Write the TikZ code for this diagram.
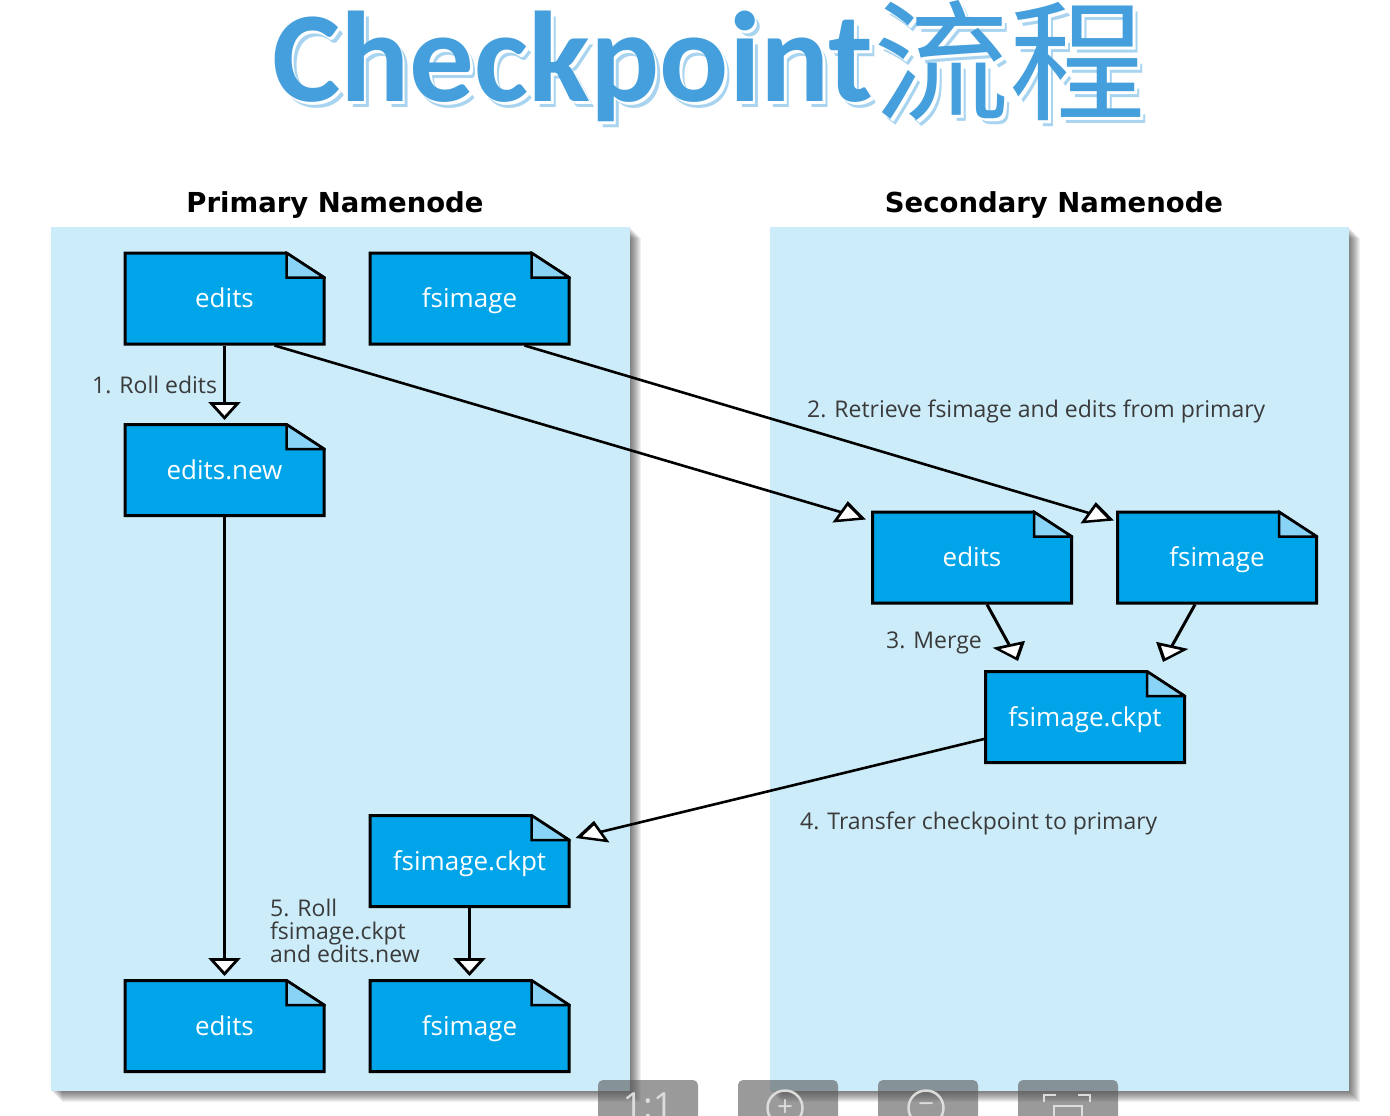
\documentclass[tikz,border=0pt]{standalone}
\usepackage{fontspec}
\setmainfont{Open Sans}
\newfontfamily\titlefont{Carlito}
\newfontfamily\headfont{DejaVu Sans}
\newfontfamily\cjk{Noto Sans CJK SC}
\usepackage{tikz}
\usetikzlibrary{
	positioning,
	arrows.meta
}

\definecolor{panelblue}{HTML}{CCECFA}
\definecolor{docblue}{HTML}{00A4E8}
\definecolor{foldblue}{HTML}{88D3F6}
\definecolor{titleblue}{HTML}{459FDC}
\definecolor{titleshade}{HTML}{A8D4F0}
\definecolor{labelgrey}{HTML}{3A3A3A}
\definecolor{buttongrey}{HTML}{575757}
\definecolor{icongrey}{HTML}{DCDCDC}

\newcommand{\titletext}{{\titlefont\bfseries\fontsize{129}{129}\selectfont Checkpoint}\raisebox{-9pt}{\scalebox{1.04}[1]{\cjk\fontsize{131}{131}\selectfont 流程}}}

\tikzset{
	panel/.style={fill=panelblue,minimum width=579pt,minimum height=864pt,outer sep=0pt},
	header/.style={font=\headfont\bfseries\fontsize{27.5}{27.5}\selectfont,text=black},
	docfile/.style={
		minimum width=202pt,minimum height=94pt,outer sep=0pt,inner sep=0pt,
		text=white,font=\fontsize{26}{26}\selectfont,text height=22pt,text depth=4pt,
		path picture={
			\draw[line width=3pt,fill=docblue,line join=miter]
				([shift={(1.5pt,-1.5pt)}]path picture bounding box.north west)
				-- ([shift={(-39pt,-1.5pt)}]path picture bounding box.north east)
				-- ([shift={(-1.5pt,-26pt)}]path picture bounding box.north east)
				-- ([shift={(-1.5pt,1.5pt)}]path picture bounding box.south east)
				-- ([shift={(1.5pt,1.5pt)}]path picture bounding box.south west)
				-- cycle;
			\draw[line width=2.5pt,fill=foldblue,line join=miter]
				([shift={(-39pt,-1.5pt)}]path picture bounding box.north east)
				-- ([shift={(-1.5pt,-26pt)}]path picture bounding box.north east)
				-- ([shift={(-39pt,-26pt)}]path picture bounding box.north east)
				-- cycle;
		}
	},
	step label/.style={anchor=west,text=labelgrey,font=\fontsize{23}{23}\selectfont,inner sep=0pt,text height=19pt,text depth=3pt},
	flow/.style={line width=3pt,-{Triangle[open,fill=white,length=18pt,width=32pt,line width=2.8pt]}},
	long flow/.style={line width=2.6pt,-{Triangle[open,fill=white,length=27pt,width=24pt,line width=2.8pt,slant=#1]}},
	short flow/.style={line width=3pt,-{Triangle[open,fill=white,length=19pt,width=31pt,line width=2.8pt,slant=#1]}},
	button/.style={fill=buttongrey,fill opacity=.6,rounded corners=5pt,minimum width=100pt,minimum height=72pt,outer sep=0pt},
	icon/.style={draw=icongrey,line width=2.5pt}
}

\begin{document}
\begin{tikzpicture}[x=1pt,y=-1pt]
	\clip (0,0) rectangle (1390,1116);

	% title
	\node [anchor=base west,inner sep=0pt,text=titleshade] (titleshadow) at (277,107) {\titletext};
	\node [anchor=base west,inner sep=0pt,text=white] (titlegap) at (274.5,104.5) {\titletext};
	\node [anchor=base west,inner sep=0pt,text=titleblue] (title) at (272,102) {\titletext};

	% panels with their soft shadow
	\foreach \d in {1,...,11} {
		\fill[black,opacity=.06] (51+\d,227+\d) rectangle (630+\d,1091+\d);
		\fill[black,opacity=.06] (770+\d,227+\d) rectangle (1349+\d,1091+\d);
	}
	\node [panel] (primary) at (340.5,659) {};
	\node [panel] (secondary) at (1059.5,659) {};
	\node [header] (primaryhead) at (335,205) {Primary Namenode};
	\node [header] (secondaryhead) at (1054,205) {Secondary Namenode};

	% files and flows
	\draw
		node [docfile] at (224.5,298.5)  (editsA)    {edits}
		node [docfile,right=43pt of editsA] (imageA) {fsimage}
		node [docfile] at (224.5,470)    (editsnew)  {edits.new}
		node [docfile] at (972,557.5)    (editsB)    {edits}
		node [docfile,right=43pt of editsB] (imageB) {fsimage}
		node [docfile] at (1085,717)     (ckptB)     {fsimage.ckpt}
		node [docfile] at (469.5,861)    (ckptA)     {fsimage.ckpt}
		node [docfile] at (224.5,1026)   (editsC)    {edits}
		node [docfile,right=43pt of editsC] (imageC) {fsimage}

		(editsA.south) edge[flow] ([yshift=3pt]editsnew.north)
		(editsnew.south) edge[flow] ([yshift=3pt]editsC.north)
		([xshift=50pt]editsA.south) edge[long flow=.35] ([shift={(-5pt,-9pt)}]editsB.north west)
		([xshift=55pt]imageA.south) edge[long flow=.35] ([shift={(-2pt,-10pt)}]imageB.north west)
		([xshift=15pt]editsB.south) edge[short flow=.3] ([shift={(-67pt,9pt)}]ckptB.north)
		([xshift=-22pt]imageB.south) edge[short flow=-.3] ([shift={(78pt,8pt)}]ckptB.north)
		([yshift=-22pt]ckptB.west) edge[long flow=-.4] ([shift={(5pt,-24pt)}]ckptA.north east)
		(ckptA.south) edge[flow] ([yshift=3pt]imageC.north)
	;

	% step labels
	\node [step label] (rollA)    at (92,385)  {1. Roll edits};
	\node [step label] (retrieve) at (807,409) {2. Retrieve fsimage and edits from primary};
	\node [step label] (merge)    at (886,640) {3. Merge};
	\node [step label] (transfer) at (800,821) {4. Transfer checkpoint to primary};
	\node [step label,align=left,text height=,text depth=] (rollB) at (270,931) {5. Roll\\fsimage.ckpt\\and edits.new};

	% viewer buttons along the bottom edge
	\node [button] (oneone)  at (648,1116)  {};
	\node [button] (zoomin)  at (788,1116)  {};
	\node [button] (zoomout) at (928,1116)  {};
	\node [button] (fit)     at (1068,1116) {};
	\node [text=icongrey,font=\fontsize{36}{36}\selectfont] (oneonetext) at (648,1106) {1:1};
	\node [icon,circle,minimum size=35pt,inner sep=0pt,text=icongrey,font=\fontsize{28}{28}\selectfont] (plus)  at (785,1108) {+};
	\node [icon,circle,minimum size=35pt,inner sep=0pt,text=icongrey,font=\fontsize{28}{28}\selectfont] (minus) at (926,1108) {−};
	\draw[icon] (1044,1102) |- (1056,1095);
	\draw[icon] (1090,1102) |- (1078,1095);
	\draw[icon] (1054,1120) |- (1082,1106) -- (1082,1120);
\end{tikzpicture}
\end{document}
